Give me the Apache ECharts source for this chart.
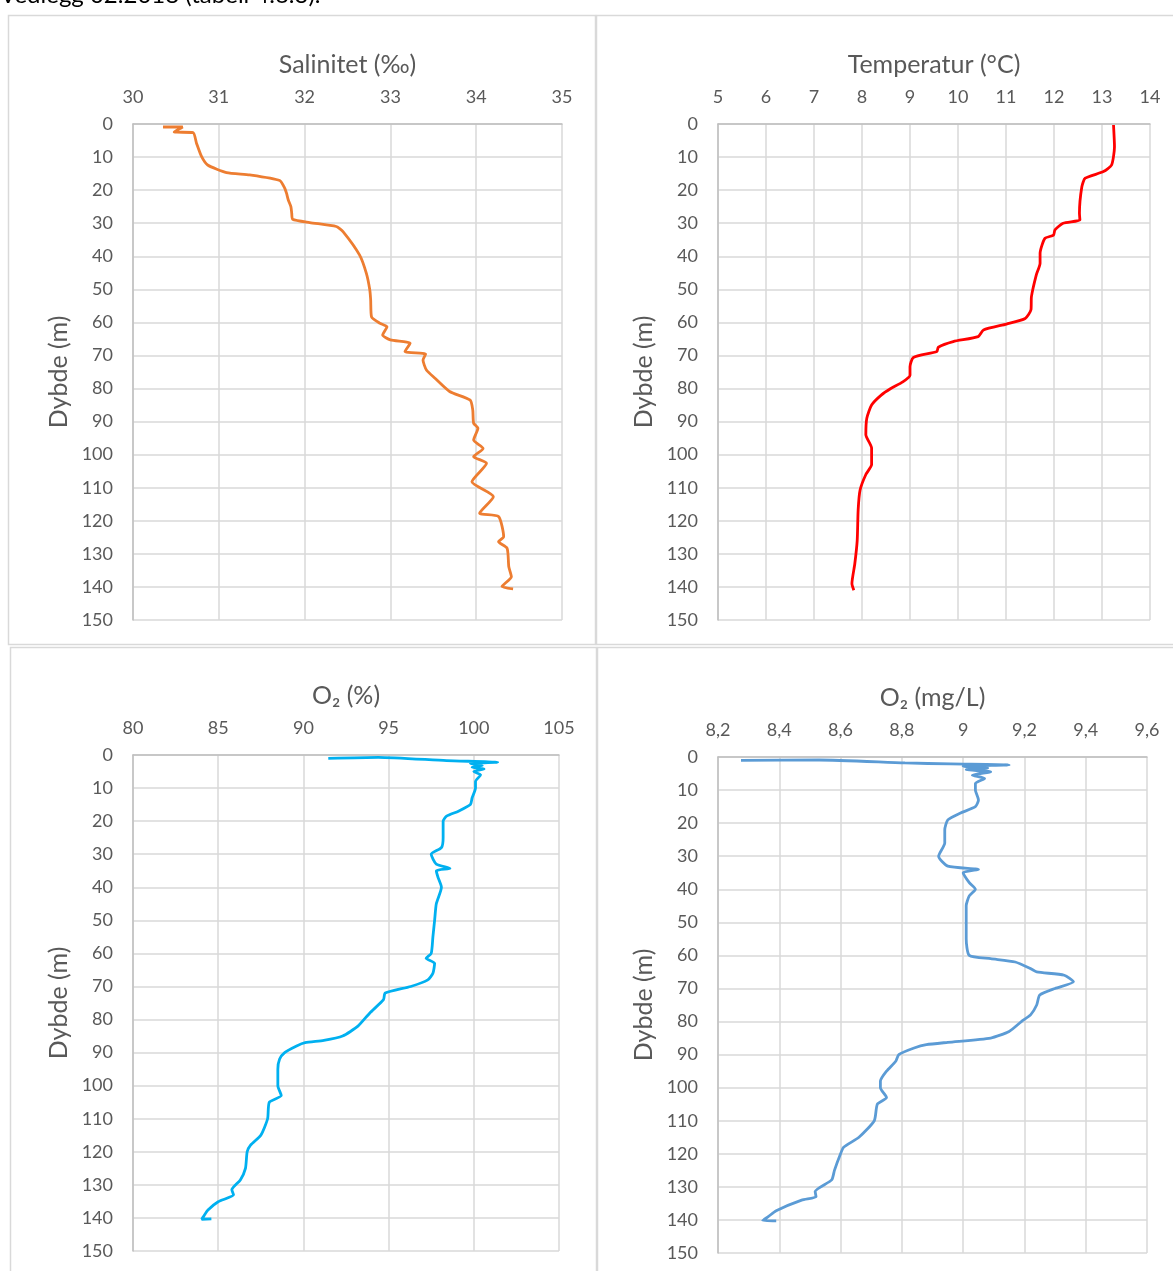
<!DOCTYPE html>
<html><head><meta charset="utf-8">
<script src="https://cdn.jsdelivr.net/npm/echarts@6/dist/echarts.min.js"></script>
<style>html,body{margin:0;padding:0;background:#fff;}#c{width:1173px;height:1271px;}</style>
</head><body><div id="c"></div>
<script>
// Depth ticks (m)
const depthTicks = [0,10,20,30,40,50,60,70,80,90,100,110,120,130,140,150];

// Salinitet (‰)
const salinityValue = [30.35,30.58,30.48,30.70,30.74,30.80,30.87,31.09,31.36,31.71,31.77,31.79,31.81,31.84,31.85,31.86,32.06,32.37,32.45,32.64,32.72,32.76,32.77,32.78,32.88,32.96,32.91,33.0,33.23,33.17,33.41,33.38,33.42,33.52,33.69,33.93,33.96,33.97,34.02,33.97,34.08,33.97,34.12,33.95,34.20,34.04,34.26,34.32,34.26,34.36,34.38,34.41,34.30,34.43];
const salinityDepth = [0.9,0.9,2.4,2.6,5.8,9.9,12.4,14.7,15.4,17.1,19.5,21,23,25,27,28.8,29.8,31.0,32.6,39.6,45.2,50.2,53.2,58.3,60.3,61.3,63.8,65.3,66.3,68.8,69.6,71.4,74.4,76.9,80.9,83.5,86.5,90.5,92.0,95.6,98.1,100.6,102.6,108.2,112.7,117.7,118.7,124.8,126.3,128.3,133.9,136.9,139.9,140.6];

// Temperatur (°C)
const tempValue = [13.24,13.26,13.20,13.03,12.65,12.58,12.53,12.54,12.19,12.02,11.99,11.81,11.71,11.71,11.63,11.53,11.52,11.40,11.01,10.53,10.42,9.90,9.59,9.56,9.07,9.0,9.0,8.85,8.6,8.4,8.2,8.1,8.08,8.2,8.2,8.08,7.96,7.92,7.9,7.85,7.79,7.83];
const tempDepth = [0.3,6.9,12.4,14.4,16.4,19.0,27.0,29.0,30.0,32.0,33.6,34.6,39.1,42.1,45.7,52.2,56.2,58.8,60.5,62.3,64.3,65.8,67.5,68.8,70.6,73.4,76,78,80,82,85,89,94,98,103,106,110.7,116.7,126,133,139,141];

// O2 (%)
const o2PctValue = [91.46,94.4,98.4,101.4,99.8,100.5,99.9,100.6,100.0,100.4,100.1,100.1,99.9,99.8,99.1,98.4,98.2,98.2,98.1,97.5,97.8,98.6,97.8,97.9,98.1,97.8,97.7,97.6,97.5,97.2,97.7,97.6,97.3,96.3,94.8,94.7,93.9,93.2,92.3,91.2,90.1,89.6,88.9,88.6,88.5,88.5,88.7,88.0,87.9,87.5,86.9,86.7,86.6,86.3,85.8,85.9,85.0,84.4,84.13,84.03,84.6];
const o2PctDepth = [1.0,0.7,1.7,2.2,2.6,3.2,3.7,4.2,5,6,8,10,13,15,17,18.5,20,25,28,30,33,34.3,35,37,40,45,50,55,60,61.5,63,66,68,70,72,74,78,82,85,86.3,87,88,90,92,95,100,103,105,110,115,118,120,125,128.5,131.5,133,135.1,137.6,139.6,140.4,140.3];

// O2 (mg/L)
const o2MgValue = [8.275,8.53,8.81,8.96,9.15,9.0,9.08,9.01,9.09,9.03,9.07,9.04,9.04,9.05,9.04,8.99,8.95,8.94,8.94,8.92,8.95,9.05,9.0,9.02,9.04,9.02,9.01,9.01,9.01,9.02,9.09,9.17,9.22,9.24,9.33,9.36,9.30,9.25,9.24,9.22,9.19,9.15,9.09,8.95,8.88,8.84,8.79,8.78,8.75,8.73,8.73,8.75,8.72,8.71,8.66,8.61,8.60,8.58,8.571,8.517,8.52,8.473,8.39,8.364,8.346,8.39];
const o2MgDepth = [1.0,0.9,1.8,2.1,2.4,2.8,3.3,3.8,4.5,5.5,6.5,8,10,13,15,17,19,22,26,30,33,34,35,38,40,42,45,50,55,60,61,62,64,65,66,68,70,72,75,78,80,83,85,86.3,87,88,90,92,95,98,100,103,105,110,115,118,120,125,127.9,131.4,133,134,137.2,139,140.2,140.3];

function pairs(v, d){ return v.map((x,i)=>[x, d[i]]); }

const FONT = 'Lato, "Open Sans", sans-serif';
const TXT = '#595959';
const panels = [
  {title:'Salinitet (‰)', grid:{left:133, top:124, width:429, height:496}, min:30, max:35, interval:1, color:'#ED7D31', data:pairs(salinityValue, salinityDepth), fmt:v=>String(v)},
  {title:'Temperatur (°C)', grid:{left:718, top:124, width:432, height:496}, min:5, max:14, interval:1, color:'#FF0000', data:pairs(tempValue, tempDepth), fmt:v=>String(v)},
  {title:'O₂ (%)', grid:{left:133, top:755, width:426, height:496}, min:80, max:105, interval:5, color:'#00B0F0', data:pairs(o2PctValue, o2PctDepth), fmt:v=>String(v)},
  {title:'O₂ (mg/L)', grid:{left:718, top:757, width:429, height:496}, min:8.2, max:9.6, interval:0.2, color:'#5B9BD5', data:pairs(o2MgValue, o2MgDepth), fmt:v=>String(Math.round(v*10)/10).replace('.',',')}
];

const option = {
  animation:false,
  backgroundColor:'#fff',
  textStyle:{fontFamily:FONT},
  graphic:[
    {type:'text', left:0, top:-17, style:{text:'Vedlegg 02.2018 (tabell 4.6.3).', font:'24px '+FONT, fill:'#000'}},
    {type:'rect', shape:{x:8.5, y:15.5, width:587, height:629}, style:{fill:'none', stroke:'#D9D9D9', lineWidth:1.5}},
    {type:'rect', shape:{x:596.5, y:15.5, width:600, height:629}, style:{fill:'none', stroke:'#D9D9D9', lineWidth:1.5}},
    {type:'rect', shape:{x:10.5, y:647.5, width:586, height:640}, style:{fill:'none', stroke:'#D9D9D9', lineWidth:1.5}},
    {type:'rect', shape:{x:597.5, y:647.5, width:600, height:640}, style:{fill:'none', stroke:'#D9D9D9', lineWidth:1.5}}
  ],
  grid: panels.map(p=>Object.assign({containLabel:false}, p.grid)),
  xAxis: panels.map((p,i)=>({
    type:'value', gridIndex:i, position:'top', min:p.min, max:p.max, interval:p.interval,
    name:p.title, nameLocation:'middle', nameGap:47,
    nameTextStyle:{color:TXT, fontSize:25, fontFamily:FONT},
    axisLine:{show:true, lineStyle:{color:'#BFBFBF', width:1.5}},
    axisTick:{show:false},
    axisLabel:{color:TXT, fontSize:18, margin:18, fontFamily:FONT, formatter:p.fmt},
    splitLine:{show:true, lineStyle:{color:'#D9D9D9', width:1.5}}
  })),
  yAxis: panels.map((p,i)=>({
    type:'value', gridIndex:i, inverse:true, min:0, max:150, interval:10,
    name:'Dybde (m)', nameLocation:'middle', nameGap:62,
    nameTextStyle:{color:TXT, fontSize:25, fontFamily:FONT},
    axisLine:{show:true, lineStyle:{color:'#BFBFBF', width:1.5}},
    axisTick:{show:false},
    axisLabel:{color:TXT, fontSize:18, margin:20, fontFamily:FONT},
    splitLine:{show:true, lineStyle:{color:'#D9D9D9', width:1.5}}
  })),
  series: panels.map((p,i)=>({
    type:'line', xAxisIndex:i, yAxisIndex:i, data:p.data, showSymbol:false, smooth:0.2,
    lineStyle:{color:p.color, width:2.8}, itemStyle:{color:p.color}
  }))
};
const chart = echarts.init(document.getElementById('c'), null, {renderer:'canvas'});
chart.setOption(option);
</script>
</body></html>
